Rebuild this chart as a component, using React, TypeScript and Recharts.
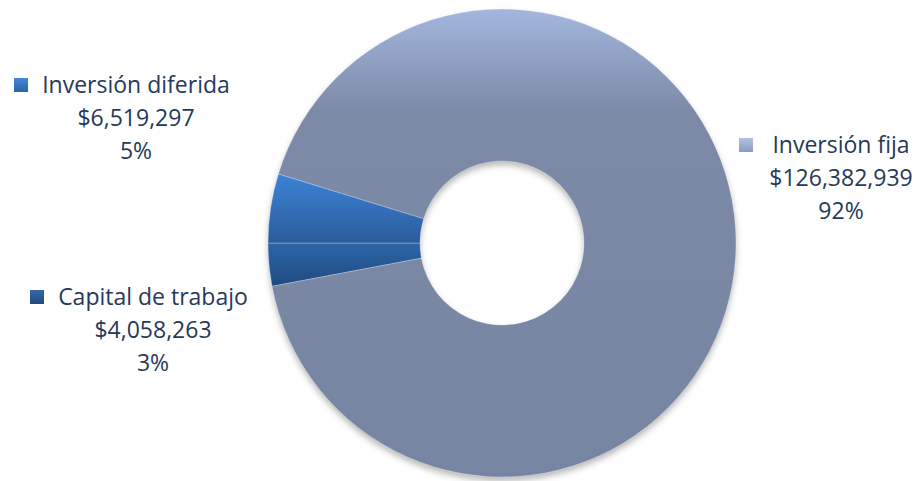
import { Cell, Pie, PieChart } from 'recharts';

// Composición de la inversión total
const categories = ['Capital de trabajo', 'Inversión fija', 'Inversión diferida'];
const amounts = [4058263, 126382939, 6519297];
const percentLabels = ['3%', '92%', '5%'];

const data = categories.map((name, i) => ({ name, value: amounts[i], pct: percentLabels[i] }));

const gradientIds = ['gCapital', 'gFija', 'gDiferida'];
const textColor = '#26395a';

// posición del bloque de etiqueta (centro del texto, línea base de la 1a línea)
const labelLayout = [
  { cx: 153, y: 305, markerX: 30 },
  { cx: 841, y: 153, markerX: 739 },
  { cx: 136, y: 93, markerX: 14 },
];

const fmt = (v: number) => '$' + v.toLocaleString('en-US');

const renderLabel = (props: any) => {
  const i = props.index as number;
  const pos = labelLayout[i];
  const d = data[i];
  return (
    <g key={`lbl-${i}`}>
      <rect x={pos.markerX} y={pos.y - 15} width={14} height={14} fill={`url(#m${i})`} />
      <text
        x={pos.cx}
        textAnchor='middle'
        fill={textColor}
        fontSize={23}
        fontFamily='"Open Sans", sans-serif'
      >
        <tspan x={pos.cx} y={pos.y}>{d.name}</tspan>
        <tspan x={pos.cx} y={pos.y + 33}>{fmt(d.value)}</tspan>
        <tspan x={pos.cx} y={pos.y + 66}>{d.pct}</tspan>
      </text>
    </g>
  );
};

export default function App() {
  return (
    <div style={{ position: 'absolute', left: 0, top: 0, width: 920, height: 481, background: '#fff' }}>
      <PieChart width={920} height={481} margin={{ top: 0, right: 0, bottom: 0, left: 0 }}>
        <defs>
          <filter id='blur' x='-10%' y='-10%' width='120%' height='120%'>
            <feGaussianBlur stdDeviation='3' />
          </filter>
          <linearGradient id='gFija' x1='0' y1='0' x2='0' y2='1'>
            <stop offset='0' stopColor='#a3b6dc' />
            <stop offset='0.22' stopColor='#7c8aa8' />
            <stop offset='1' stopColor='#7685a1' />
          </linearGradient>
          <linearGradient id='gDiferida' x1='0' y1='0' x2='0' y2='1'>
            <stop offset='0' stopColor='#3b83d6' />
            <stop offset='1' stopColor='#2b5c9b' />
          </linearGradient>
          <linearGradient id='gCapital' x1='0' y1='0' x2='0' y2='1'>
            <stop offset='0' stopColor='#2e65a8' />
            <stop offset='1' stopColor='#1f4a80' />
          </linearGradient>
          <linearGradient id='m0' x1='0' y1='0' x2='0' y2='1'>
            <stop offset='0' stopColor='#3668a8' />
            <stop offset='1' stopColor='#1f4a80' />
          </linearGradient>
          <linearGradient id='m1' x1='0' y1='0' x2='0' y2='1'>
            <stop offset='0' stopColor='#b2c2e0' />
            <stop offset='1' stopColor='#8a9cc0' />
          </linearGradient>
          <linearGradient id='m2' x1='0' y1='0' x2='0' y2='1'>
            <stop offset='0' stopColor='#4488d8' />
            <stop offset='1' stopColor='#2c62a6' />
          </linearGradient>
        </defs>
        {/* sombra */}
        <Pie
          data={data}
          dataKey='value'
          cx={502}
          cy={247}
          innerRadius={82}
          outerRadius={234}
          startAngle={180}
          endAngle={540}
          stroke='none'
          fill='#000'
          fillOpacity={0.28}
          isAnimationActive={false}
          style={{ filter: 'url(#blur)' }}
        />
        <Pie
          data={data}
          dataKey='value'
          cx={502}
          cy={243}
          innerRadius={82}
          outerRadius={234}
          startAngle={180}
          endAngle={540}
          stroke='rgba(255,255,255,0.35)'
          strokeWidth={0.8}
          label={renderLabel}
          labelLine={false}
          isAnimationActive={false}
        >
          {data.map((d, i) => (
            <Cell key={d.name} fill={`url(#${gradientIds[i]})`} />
          ))}
        </Pie>
      </PieChart>
    </div>
  );
}
